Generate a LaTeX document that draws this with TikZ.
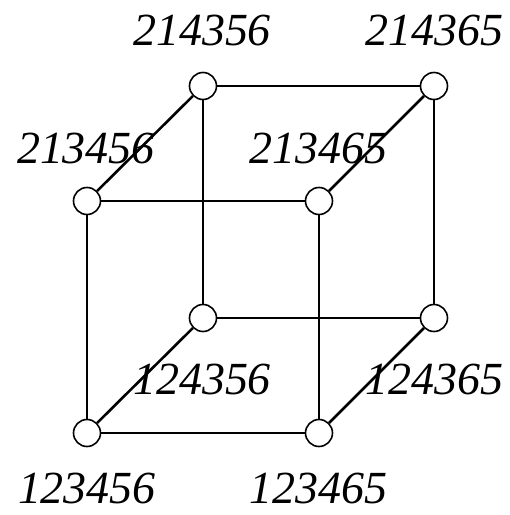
\documentclass[tikz,border=0pt]{standalone}
\usepackage{fontspec}
\setmainfont{Liberation Serif}

\begin{document}
\begin{tikzpicture}[x=1pt,y=1pt,
  vtx/.style={circle,draw,line width=1.6pt,fill=white,minimum size=27pt,inner sep=0pt},
  perm/.style={font=\fontsize{46}{50}\selectfont\itshape,inner sep=0pt},
  edge/.style={line width=2.6pt}]

% Canvas: 510 x 515 pt, one pt per pixel of the reference.
\useasboundingbox (0,0) rectangle (510,515);

% ── Cube vertices ────────────────────────────────────────────────────────────
\foreach \p/\x/\y in {214356/203/429, 214365/434/429,
                      213456/87/314,  213465/319/314,
                      124356/203/197, 124365/434/197,
                      123456/87/82,   123465/319/82}
  \node[vtx] (v\p) at (\x,\y) {};

% ── Cube edges ───────────────────────────────────────────────────────────────
% top face
\foreach \a/\b in {214356/214365, 213456/213465, 214356/213456, 214365/213465}
  \draw[edge] (v\a) -- (v\b);
% bottom face
\foreach \a/\b in {124356/124365, 123456/123465, 124356/123456, 124365/123465}
  \draw[edge] (v\a) -- (v\b);
% verticals
\foreach \a/\b in {214356/124356, 214365/124365, 213456/123456, 213465/123465}
  \draw[edge] (v\a) -- (v\b);

% ── Permutation labels ───────────────────────────────────────────────────────
\foreach \p/\x/\y in {214356/202/485, 214365/434/485,
                      213456/86/367,  213465/318/367,
                      124356/202/136, 124365/434/136,
                      123456/87/27,   123465/318/27}
  \node[perm] (l\p) at (\x,\y) {\p};

\end{tikzpicture}
\end{document}
